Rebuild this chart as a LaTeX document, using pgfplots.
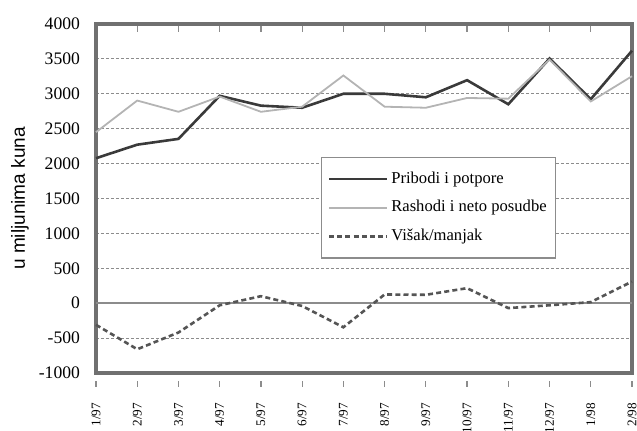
\documentclass[border=0pt]{standalone}
\usepackage{fontspec}
\setmainfont{Liberation Serif}
\newfontfamily\labsans{Liberation Sans}
\usepackage{pgfplots}
\pgfplotsset{compat=1.18}
\definecolor{cdark}{HTML}{3A3A3A}
\definecolor{clight}{HTML}{B4B4B4}
\definecolor{cdash}{HTML}{555555}
\definecolor{cframe}{HTML}{707070}
\definecolor{cgrid}{HTML}{8C8C8C}
\begin{document}
\begin{tikzpicture}
\begin{axis}[
  scale only axis,
  width=268pt, height=174.5pt,
  xmin=0, xmax=13, ymin=-1000, ymax=4000,
  axis line style={cframe, line width=1.6pt},
  xtick={0,...,13},
  xticklabels={1/97,2/97,3/97,4/97,5/97,6/97,7/97,8/97,9/97,10/97,11/97,12/97,1/98,2/98},
  xticklabel style={font=\fontsize{6.6}{7}\selectfont, yshift=-8.5pt, rotate=90, anchor=east},
  xtick style={draw=cgrid, line width=0.6pt, yshift=-4pt},
  tick align=outside,
  major tick length=3pt,
  ytick={-1000,-500,...,4000},
  ytick style={draw=none},
  yticklabel style={font=\fontsize{8.8}{10}\selectfont, xshift=-1.5pt},
  /pgf/number format/assume math mode=true,
  /pgf/number format/1000 sep={},
  ymajorgrids,
  major grid style={cgrid, line width=0.5pt, dash pattern=on 1.5pt off 1pt},
  ylabel={\labsans u miljunima kuna},
  every axis y label/.style={at={(axis description cs:-0.142,0.5)}, rotate=90, anchor=center, font=\fontsize{9.5}{10}\selectfont},
  legend image code/.code={\draw[#1] (0pt,0pt) -- (29pt,0pt);},
  legend style={at={(0.42,0.619)}, anchor=north west, draw=cgrid, line width=0.6pt,
    font=\fontsize{8.3}{10}\selectfont, inner xsep=3pt, inner ysep=5pt,
    row sep=3.2pt, nodes={inner xsep=1.5pt},
    /tikz/every even column/.append style={column sep=3pt}},
  legend cell align=left,
  clip=false,
]
\addplot[cgrid, line width=0.8pt, forget plot] coordinates {(0,0) (13,0)};
\addplot[cdark, line width=1.3pt] coordinates {
(0,2077) (1,2271) (2,2354) (3,2971) (4,2830) (5,2800) (6,3000) (7,3000) (8,2950) (9,3195) (10,2850) (11,3505) (12,2922) (13,3617)};
\addlegendentry{Pribodi i potpore}
\addplot[clight, line width=0.9pt] coordinates {
(0,2450) (1,2903) (2,2742) (3,2960) (4,2742) (5,2815) (6,3262) (7,2815) (8,2800) (9,2940) (10,2930) (11,3490) (12,2890) (13,3252)};
\addlegendentry{Rashodi i neto posudbe}
\addplot[cdash, line width=1.3pt, dash pattern=on 2.5pt off 1.6pt] coordinates {
(0,-310) (1,-660) (2,-420) (3,-30) (4,100) (5,-40) (6,-345) (7,125) (8,120) (9,215) (10,-70) (11,-30) (12,15) (13,310)};
\addlegendentry{Višak/manjak}
\end{axis}
\pgfresetboundingbox
\path (-48pt,-29pt) rectangle (270.5pt,186.5pt);
\end{tikzpicture}
\end{document}
